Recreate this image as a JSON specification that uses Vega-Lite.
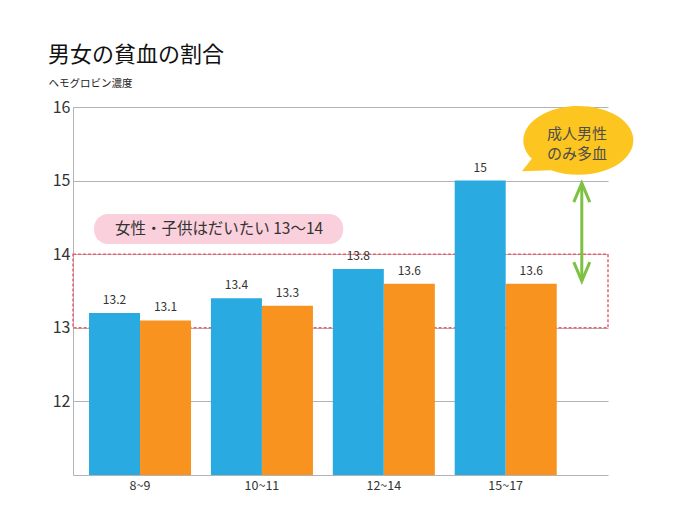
{
  "$schema": "https://vega.github.io/schema/vega-lite/v6.json",
  "width": 535,
  "height": 368,
  "autosize": "none",
  "padding": {"left": 73, "top": 107, "right": 72, "bottom": 55},
  "background": "white",
  "config": {"font": "Noto Sans CJK JP", "view": {"stroke": null}},
  "title": {"text": "男女の貧血の割合", "anchor": "start", "frame": "group", "dx": -25, "fontSize": 22, "fontWeight": "normal", "color": "#111111", "offset": 11},
  "datasets": {
    "bars": [
      {"age": "8~9", "sex": "男性", "value": 13.2},
      {"age": "8~9", "sex": "女性", "value": 13.1},
      {"age": "10~11", "sex": "男性", "value": 13.4},
      {"age": "10~11", "sex": "女性", "value": 13.3},
      {"age": "12~14", "sex": "男性", "value": 13.8},
      {"age": "12~14", "sex": "女性", "value": 13.6},
      {"age": "15~17", "sex": "男性", "value": 15},
      {"age": "15~17", "sex": "女性", "value": 13.6}
    ],
    "box": [{"x1": 0, "x2": 100, "y1": 13, "y2": 14}],
    "note": [{"x1": 3.93, "x2": 50.5, "y1": 14.139, "y2": 14.546, "tx": 27.3, "ty": 14.342, "label": "女性・子供はだいたい 13〜14"}],
    "bubble": [{"x": 94.5, "y": 15.545}],
    "bubbletext": [
      {"x": 94.2, "y": 15.63, "label": "成人男性"},
      {"x": 94.2, "y": 15.365, "label": "のみ多血"}
    ],
    "arrow": [{"x": 95.1, "y1": 14.966, "y2": 13.635}],
    "arrowtop": [{"x": 95.1, "y": 14.966}],
    "arrowbottom": [{"x": 95.1, "y": 13.635}]
  },
  "layer": [
    {
      "data": {"name": "box"},
      "mark": {"type": "rect", "fill": null, "filled": false, "stroke": "#ef5f6c", "strokeWidth": 1.5, "strokeDash": [3, 2]},
      "encoding": {
        "x": {"field": "x1", "type": "quantitative", "scale": {"domain": [0, 100], "nice": false, "zero": false}, "axis": null},
        "x2": {"field": "x2"},
        "y": {"field": "y1", "type": "quantitative", "scale": {"domain": [11, 16], "nice": false, "zero": false}},
        "y2": {"field": "y2"}
      }
    },
    {
      "data": {"name": "bars"},
      "encoding": {
        "x": {
          "field": "age", "type": "nominal", "sort": ["8~9", "10~11", "12~14", "15~17"],
          "scale": {"paddingInner": 0.163, "paddingOuter": 0.276, "align": 0.238},
          "axis": {"title": null, "labelAngle": 0, "ticks": false, "domainColor": "#b3b3b3", "labelFontSize": 12.5, "labelColor": "#333333", "labelPadding": 4}
        },
        "xOffset": {"field": "sex", "type": "nominal", "sort": ["男性", "女性"], "scale": {"paddingInner": 0, "paddingOuter": 0}},
        "y": {
          "field": "value", "type": "quantitative",
          "scale": {"domain": [11, 16], "nice": false, "zero": false},
          "axis": {
            "values": [12, 13, 14, 15, 16], "format": "d", "grid": true, "gridColor": "#b3b3b3", "domainColor": "#b3b3b3", "ticks": false,
            "labelFontSize": 16, "labelFontWeight": "normal", "labelColor": "#333333", "labelPadding": 3,
            "title": "ヘモグロビン濃度", "titleAngle": 0, "titleAlign": "left", "titleX": -25, "titleY": -24, "titleBaseline": "middle",
            "titleFontSize": 10.5, "titleFontWeight": "normal", "titleColor": "#222222"
          }
        }
      },
      "layer": [
        {
          "mark": {"type": "bar"},
          "encoding": {
            "y2": {"datum": 11},
            "color": {"field": "sex", "type": "nominal", "scale": {"domain": ["男性", "女性"], "range": ["#29abe2", "#f7931e"]}, "legend": null}
          }
        },
        {
          "mark": {"type": "text", "baseline": "bottom", "dy": -6, "fontSize": 12, "color": "#333333"},
          "encoding": {"text": {"field": "value", "type": "quantitative"}}
        }
      ]
    },
    {
      "layer": [
        {
          "data": {"name": "note"},
          "mark": {"type": "rect", "fill": "#fbd0dd", "cornerRadius": 14},
          "encoding": {
            "x": {"field": "x1", "type": "quantitative", "scale": {"domain": [0, 100], "nice": false, "zero": false}, "axis": null},
            "x2": {"field": "x2"},
            "y": {"field": "y1", "type": "quantitative", "scale": {"domain": [11, 16], "nice": false, "zero": false}},
            "y2": {"field": "y2"}
          }
        },
        {
          "data": {"name": "note"},
          "mark": {"type": "text", "fontSize": 15.5, "color": "#333333", "baseline": "middle", "align": "center"},
          "encoding": {
            "x": {"field": "tx", "type": "quantitative"},
            "y": {"field": "ty", "type": "quantitative"},
            "text": {"field": "label"}
          }
        },
        {
          "data": {"name": "bubble"},
          "mark": {"type": "point", "filled": true, "fill": "#fcc51f", "opacity": 1, "strokeWidth": 0,
            "shape": "M -0.5 0.54 L -1.03 0.56 L -0.85 0.33 A 1 0.625 0 1 1 -0.5 0.54 Z", "size": 12100},
          "encoding": {
            "x": {"field": "x", "type": "quantitative"},
            "y": {"field": "y", "type": "quantitative"}
          }
        },
        {
          "data": {"name": "bubbletext"},
          "mark": {"type": "text", "fontSize": 15, "color": "#4d4d4d", "baseline": "middle", "align": "center"},
          "encoding": {
            "x": {"field": "x", "type": "quantitative"},
            "y": {"field": "y", "type": "quantitative"},
            "text": {"field": "label"}
          }
        },
        {
          "data": {"name": "arrow"},
          "mark": {"type": "rule", "color": "#7dc242", "strokeWidth": 3},
          "encoding": {
            "x": {"field": "x", "type": "quantitative"},
            "y": {"field": "y1", "type": "quantitative"},
            "y2": {"field": "y2"}
          }
        },
        {
          "data": {"name": "arrowtop"},
          "mark": {"type": "point", "filled": false, "stroke": "#7dc242", "strokeWidth": 3, "opacity": 1, "strokeJoin": "miter",
            "shape": "M -0.4 0.95 L 0 0 L 0.4 0.95", "size": 1600},
          "encoding": {
            "x": {"field": "x", "type": "quantitative"},
            "y": {"field": "y", "type": "quantitative"}
          }
        },
        {
          "data": {"name": "arrowbottom"},
          "mark": {"type": "point", "filled": false, "stroke": "#7dc242", "strokeWidth": 3, "opacity": 1, "strokeJoin": "miter",
            "shape": "M -0.4 -0.95 L 0 0 L 0.4 -0.95", "size": 1600},
          "encoding": {
            "x": {"field": "x", "type": "quantitative"},
            "y": {"field": "y", "type": "quantitative"}
          }
        }
      ]
    }
  ],
  "resolve": {"scale": {"x": "independent"}}
}
